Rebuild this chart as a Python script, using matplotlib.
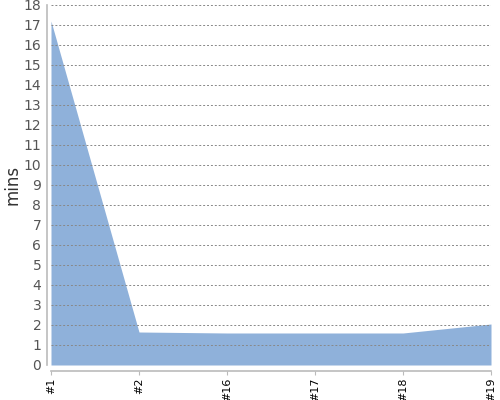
import matplotlib
matplotlib.use("Agg")
import matplotlib.pyplot as plt

categories = ["#1", "#2", "#16", "#17", "#18", "#19"]
values = [17.2, 1.65, 1.6, 1.6, 1.6, 2.05]
yticks = list(range(0, 19))

W, H = 500, 400
fig = plt.figure(figsize=(W / 100, H / 100), dpi=100)
ax = fig.add_axes([51 / W, 1 - 365 / H, (491 - 51) / W, (365 - 5) / H])

x = list(range(len(categories)))
ax.fill_between(x, values, 0, color="#8fb1da", linewidth=0, zorder=1)
ax.set_xlim(0, len(categories) - 1)
ax.set_ylim(0, 18)
ax.set_yticks(yticks)
ax.set_xticks(x)
ax.set_xticklabels(categories)
ax.tick_params(axis="y", length=0, labelsize=10, labelcolor="#555555", pad=4)
ax.tick_params(axis="x", length=3, color="#bbbbbb", pad=2, labelrotation=90,
               labelsize=8, labelcolor="#000000")
ax.yaxis.grid(True, linestyle=(0, (2, 2)), color="#888888", linewidth=0.7, zorder=2)
ax.set_axisbelow(False)
for s in ["top", "right"]:
    ax.spines[s].set_visible(False)
ax.spines["left"].set_position(("outward", 3))
ax.spines["bottom"].set_position(("outward", 4))
for s in ["left", "bottom"]:
    ax.spines[s].set_color("#bbbbbb")
    ax.spines[s].set_linewidth(1.2)
ax.set_ylabel("mins", fontsize=12, color="#333333")
ax.yaxis.set_label_coords(-(51 - 21) / (491 - 51), 0.5)

fig.savefig("out.png", dpi=100)
